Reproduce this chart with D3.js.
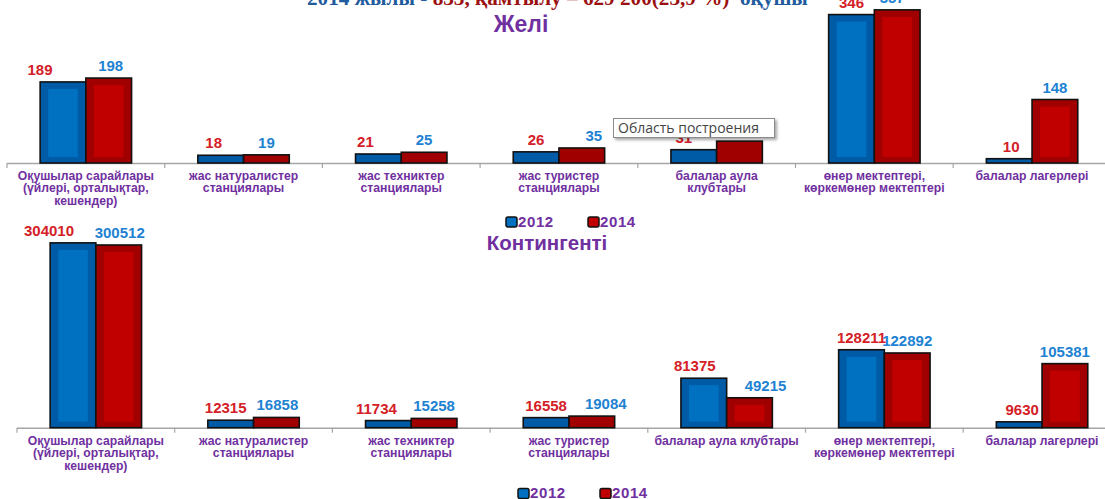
<!DOCTYPE html>
<html><head><meta charset="utf-8">
<script src="https://cdn.jsdelivr.net/npm/d3@7"></script>
<style>
html,body{margin:0;padding:0;background:#fff;overflow:hidden;}
svg{display:block;}
</style></head>
<body>
<svg id="chart" width="1105" height="499"></svg>
<script>
// ---------- data ----------
const years = ["2012", "2014"];
const categoriesNet = [
  "Оқушылар сарайлары|(үйлері, орталықтар,|кешендер)",
  "жас натуралистер|станциялары",
  "жас техниктер|станциялары",
  "жас туристер|станциялары",
  "балалар аула|клубтары",
  "өнер мектептері,|көркемөнер мектептері",
  "балалар лагерлері"
];
const categoriesCont = [
  "Оқушылар сарайлары|(үйлері, орталықтар,|кешендер)",
  "жас натуралистер|станциялары",
  "жас техниктер|станциялары",
  "жас туристер|станциялары",
  "балалар аула клубтары",
  "өнер мектептері,|көркемөнер мектептері",
  "балалар лагерлері"
];
const net2012 = [189, 18, 21, 26, 31, 346, 10];
const net2014 = [198, 19, 25, 35, 51, 357, 148];
const cont2012 = [304010, 12315, 11734, 16558, 81375, 128211, 9630];
const cont2014 = [300512, 16858, 15258, 19084, 49215, 122892, 105381];
const titleParts = [
  {t: "2014 жылы - ", c: "#1F5C9E"},
  {t: "833, қамтылу – 629 200(23,9 %)", c: "#9B1010"},
  {t: "  оқушы", c: "#1F5C9E"}
];
const netTitle = "Желі";
const contTitle = "Контингенті";
const tooltipText = "Область построения";
// label nudges (manual label placement in the original)
const netNudge = [[-23, -7, -13, 0, -10, 0, 2], [2, 0, 0, 12, 0, -5, 0]];
const contNudge = [[-24, -5, -12, 0, -9, 0, 3], [1, 1, 0, 14, 16, 0, 0]];

// ---------- style ----------
const purple = "#7030A0";
const barOuter = {"2012": "#005BA6", "2014": "#A00000"};
const barInner = {"2012": "#0070C0", "2014": "#C00000"};
const labelColor = {"2012": "#D42027", "2014": "#1E82D2"};

const svg = d3.select("#chart");
const defs = svg.append("defs");
const f = defs.append("filter").attr("id", "shadow").attr("x", "-10%").attr("y", "-20%").attr("width", "130%").attr("height", "160%");
f.append("feDropShadow").attr("dx", 2).attr("dy", 2).attr("stdDeviation", 1.5).attr("flood-color", "#000").attr("flood-opacity", 0.35);

// title (cropped)
const tt = svg.append("text").attr("x", 307).attr("y", 4.5)
  .attr("font-family", "Liberation Serif, Times New Roman, serif")
  .attr("font-weight", "bold").attr("font-size", 21.2);
titleParts.forEach(p => tt.append("tspan").attr("fill", p.c).attr("xml:space", "preserve").text(p.t));

function drawChart(opts) {
  const {cats, v2012, v2014, x0r, base, ymax, ytop, nudge, title, titleX, titleY, titleSize, labelY, legendY, legendX} = opts;
  const g = svg.append("g");
  const x0 = d3.scaleBand().domain(d3.range(cats.length)).range(x0r).paddingInner(0).paddingOuter(0);
  const x1 = d3.scaleBand().domain(years).range([0, x0.bandwidth()]).paddingInner(0).paddingOuter(0.725);
  const y = d3.scaleLinear().domain([0, ymax]).range([base, ytop]);
  const vals = {"2012": v2012, "2014": v2014};

  // title
  g.append("text").attr("x", titleX).attr("y", titleY).attr("text-anchor", "middle")
    .attr("font-family", "Liberation Sans, Arial, sans-serif").attr("font-weight", "bold")
    .attr("font-size", titleSize).attr("fill", purple).text(title);

  // axis
  const axis = g.append("g");
  axis.append("line").attr("x1", x0r[0]).attr("x2", 1105).attr("y1", base + 0.5).attr("y2", base + 0.5)
    .attr("stroke", "#A6A6A6").attr("stroke-width", 1.5);
  d3.range(cats.length).forEach(i => {
    axis.append("line").attr("x1", x0(i)).attr("x2", x0(i)).attr("y1", base).attr("y2", base + 5)
      .attr("stroke", "#A6A6A6").attr("stroke-width", 1.2);
  });

  // bars
  years.forEach((yr, k) => {
    const gg = g.append("g");
    vals[yr].forEach((v, i) => {
      const bx = x0(i) + x1(yr), bw = x1.bandwidth();
      const by = y(v), bh = base - y(v);
      gg.append("rect").attr("x", bx).attr("y", by).attr("width", bw).attr("height", bh)
        .attr("fill", barOuter[yr]).attr("stroke", "#111").attr("stroke-width", 1.6);
      if (bh > 22) {
        gg.append("rect").attr("x", bx + 8).attr("y", by + 7).attr("width", bw - 16).attr("height", bh - 13)
          .attr("fill", barInner[yr]);
      }
    });
  });
  // labels
  years.forEach((yr, k) => {
    vals[yr].forEach((v, i) => {
      g.append("text").attr("x", x0(i) + x1(yr) + x1.bandwidth() / 2 + nudge[k][i]).attr("y", y(v) - 7)
        .attr("text-anchor", "middle").attr("font-family", "Liberation Sans, Arial, sans-serif")
        .attr("font-weight", "bold").attr("font-size", 15).attr("fill", labelColor[yr]).text(v);
    });
  });
  // category labels
  cats.forEach((c, i) => {
    const t = g.append("text").attr("x", x0(i) + x0.bandwidth() / 2).attr("y", labelY)
      .attr("text-anchor", "middle").attr("font-family", "Liberation Sans, Arial, sans-serif")
      .attr("font-weight", "bold").attr("font-size", 12.2).attr("fill", purple);
    c.split("|").forEach((line, j) => t.append("tspan").attr("x", x0(i) + x0.bandwidth() / 2).attr("dy", j ? 12.8 : 0).text(line));
  });
  // legend
  years.forEach((yr, k) => {
    const lx = legendX + k * 82;
    g.append("rect").attr("x", lx).attr("y", legendY - 9.5).attr("width", 11).attr("height", 10).attr("rx", 2)
      .attr("fill", barInner[yr]).attr("stroke", "#111").attr("stroke-width", 1.5);
    g.append("text").attr("x", lx + 12).attr("y", legendY).attr("font-family", "Liberation Sans, Arial, sans-serif")
      .attr("font-weight", "bold").attr("font-size", 15).attr("letter-spacing", 0.6).attr("fill", purple).text(yr);
  });
  return g;
}

drawChart({cats: categoriesNet, v2012: net2012, v2014: net2014, x0r: [7, 1110.9], base: 163, ymax: 380, ytop: 0,
  nudge: netNudge, title: netTitle, titleX: 521, titleY: 31.5, titleSize: 23, labelY: 179.5, legendY: 226.5, legendX: 506});
drawChart({cats: categoriesCont, v2012: cont2012, v2014: cont2014, x0r: [17, 1120.9], base: 427.7, ymax: 350000, ytop: 214.9,
  nudge: contNudge, title: contTitle, titleX: 547, titleY: 250, titleSize: 20.5, labelY: 444.5, legendY: 498, legendX: 518});

// tooltip overlay
const tip = svg.append("g");
tip.append("rect").attr("x", 613.5).attr("y", 118.5).attr("width", 161).attr("height", 19)
  .attr("fill", "#fff").attr("stroke", "#8C8C8C").attr("stroke-width", 1).attr("filter", "url(#shadow)");
tip.append("text").attr("x", 618).attr("y", 133).attr("font-family", "Open Sans, Noto Sans, sans-serif")
  .attr("font-size", 14).attr("fill", "#444").text(tooltipText);
</script>
</body></html>
